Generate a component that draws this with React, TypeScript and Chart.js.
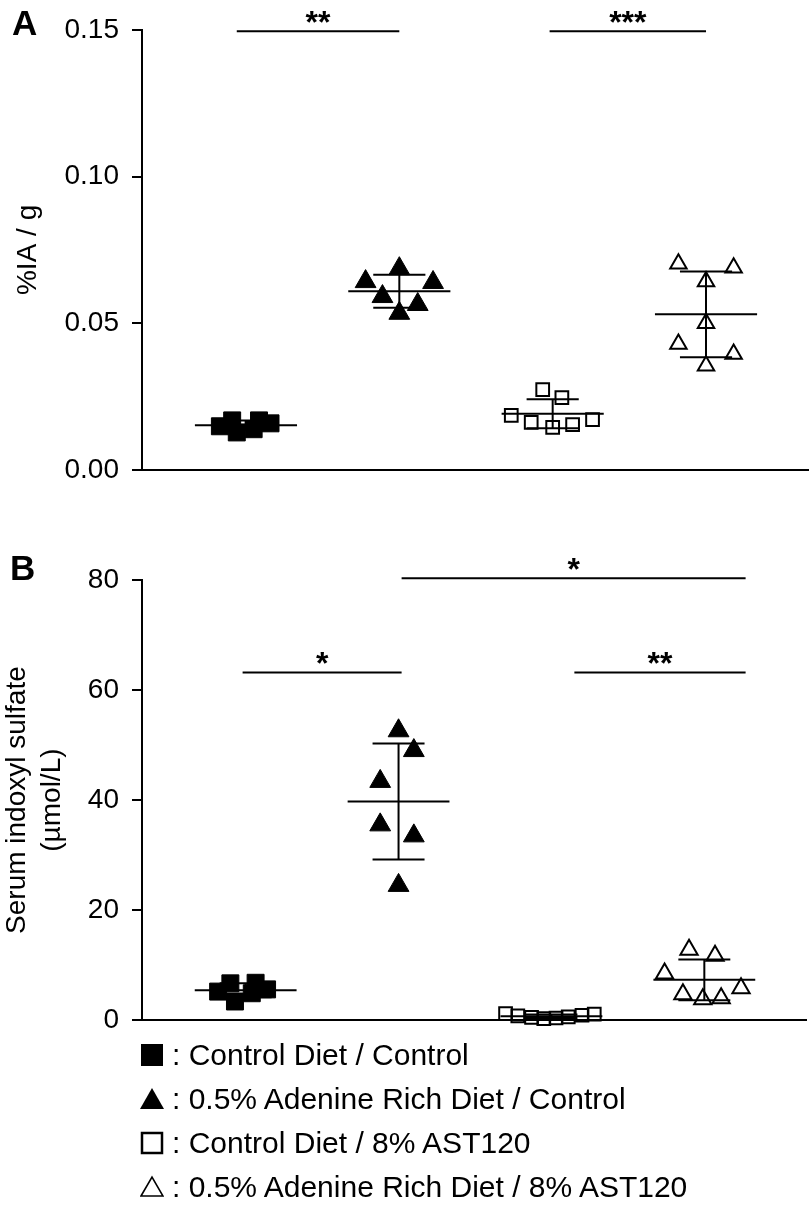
import React, { useEffect, useRef } from "react";
import { Chart, registerables } from "chart.js";
Chart.register(...registerables);

const FONT = '"Liberation Sans", Arial, Helvetica, sans-serif';

const groupNames = [
  "Control Diet / Control",
  "0.5% Adenine Rich Diet / Control",
  "Control Diet / 8% AST120",
  "0.5% Adenine Rich Diet / 8% AST120",
];
const groupX = [0, 1, 2, 3];

// Panel A: %IA / g
const aCtrlCtrl = [0.0149, 0.0169, 0.0128, 0.0139, 0.0169, 0.0159];
const aAdeCtrl = [0.0686, 0.0642, 0.0639, 0.0591, 0.0564, 0.0534];
const aCtrlAst = [0.0274, 0.0247, 0.0186, 0.0162, 0.0145, 0.0155, 0.0172];
const aAdeAst = [0.0703, 0.0689, 0.0642, 0.05, 0.0429, 0.0395, 0.0355];
const aJitter1 = [-0.17, -0.09, -0.06, 0.05, 0.085, 0.16];
const aJitter2 = [0, -0.22, 0.22, -0.11, 0.12, 0];
const aJitter3 = [-0.065, 0.06, -0.27, -0.14, 0, 0.13, 0.26];
const aJitter4 = [-0.18, 0.18, 0, 0, -0.18, 0.18, 0];
const aTicks = [0, 0.05, 0.1, 0.15];
const aBrackets = [
  { from: -0.06, to: 1.0, y: 0.1495, label: "**" },
  { from: 1.98, to: 3.0, y: 0.1495, label: "***" },
];

// Panel B: Serum indoxyl sulfate (µmol/L)
const bCtrlCtrl = [5.2, 6.7, 3.4, 6.8, 4.9, 5.6];
const bAdeCtrl = [52.6, 49.0, 43.4, 35.5, 33.5, 24.5];
const bCtrlAst = [1.2, 0.8, 0.5, 0.3, 0.4, 0.6, 0.9, 1.1];
const bAdeAst = [12.8, 11.7, 8.5, 5.8, 4.7, 3.8, 4.0];
const bJitter1 = [-0.18, -0.1, -0.07, 0.065, 0.04, 0.14];
const bJitter2 = [0, 0.1, -0.12, -0.12, 0.1, 0];
const bJitter3 = [-0.3, -0.22, -0.13, -0.05, 0.03, 0.11, 0.2, 0.28];
const bJitter4 = [-0.1, 0.07, -0.26, 0.24, -0.14, -0.01, 0.11];
const bTicks = [0, 20, 40, 60, 80];
const bBrackets = [
  { from: -0.02, to: 1.02, y: 63.2, label: "*" },
  { from: 1.02, to: 3.27, y: 80.3, label: "*" },
  { from: 2.15, to: 3.27, y: 63.2, label: "**" },
];

const markerStyles = ["rect", "triangle", "rect", "triangle"];
const markerFilled = [true, true, false, false];

function makeDatasets(values: number[][], jitters: number[][], radii: number[]) {
  return values.map((vals, i) => ({
    label: groupNames[i],
    data: vals.map((v, j) => ({ x: groupX[i] + jitters[i][j], y: v })),
    pointStyle: markerStyles[i],
    pointRadius: radii[i],
    pointBackgroundColor: markerFilled[i] ? "#000" : "rgba(0,0,0,0)",
    pointBorderColor: "#000",
    pointBorderWidth: markerFilled[i] ? 1 : 2,
    showLine: false,
    clip: false,
  }));
}

const statsPlugin = {
  id: "stats",
  afterDatasetsDraw(chart: any, _args: any, opts: any) {
    const { ctx } = chart;
    const xs = chart.scales.x;
    const ys = chart.scales.y;
    ctx.save();
    ctx.strokeStyle = "#000";
    ctx.lineWidth = 2;
    const seg = (x1: number, y1: number, x2: number, y2: number) => {
      ctx.beginPath();
      ctx.moveTo(x1, y1);
      ctx.lineTo(x2, y2);
      ctx.stroke();
    };
    chart.data.datasets.forEach((ds: any, i: number) => {
      const vals = ds.data.map((d: any) => d.y);
      const n = vals.length;
      const mean = vals.reduce((a: number, b: number) => a + b, 0) / n;
      const sd = Math.sqrt(
        vals.reduce((a: number, b: number) => a + (b - mean) ** 2, 0) / (n - 1)
      );
      const cx = groupX[i];
      const ym = ys.getPixelForValue(mean);
      const yt = ys.getPixelForValue(mean + sd);
      const yb = ys.getPixelForValue(mean - sd);
      const xc = xs.getPixelForValue(cx);
      seg(xs.getPixelForValue(cx - 0.333), ym, xs.getPixelForValue(cx + 0.333), ym);
      seg(xc, yt, xc, yb);
      seg(xs.getPixelForValue(cx - 0.17), yt, xs.getPixelForValue(cx + 0.17), yt);
      seg(xs.getPixelForValue(cx - 0.17), yb, xs.getPixelForValue(cx + 0.17), yb);
    });
    // significance brackets
    (opts.brackets || []).forEach((b: any) => {
      const yy = ys.getPixelForValue(b.y);
      const x1 = xs.getPixelForValue(b.from);
      const x2 = xs.getPixelForValue(b.to);
      seg(x1, yy, x2, yy);
      ctx.fillStyle = "#000";
      ctx.font = `bold 32px ${FONT}`;
      ctx.textAlign = "center";
      ctx.textBaseline = "alphabetic";
      ctx.fillText(b.label, (x1 + x2) / 2, yy + 2);
    });
    // panel letter
    if (opts.letter) {
      ctx.fillStyle = "#000";
      ctx.font = `bold 35px ${FONT}`;
      ctx.textAlign = "left";
      ctx.textBaseline = "alphabetic";
      ctx.fillText(opts.letter, opts.letterX, opts.letterY);
    }
    ctx.restore();
  },
};

function makeConfig(
  datasets: any[],
  ticks: number[],
  yMax: number,
  decimals: number,
  title: string | string[],
  titlePad: number,
  padding: any,
  stats: any
) {
  return {
    type: "scatter" as const,
    data: { datasets },
    options: {
      animation: false,
      responsive: false,
      maintainAspectRatio: false,
      events: [],
      layout: { padding, autoPadding: false },
      plugins: {
        legend: { display: false },
        tooltip: { enabled: false },
        stats,
      },
      scales: {
        x: {
          type: "linear",
          min: -0.678,
          max: 3.665,
          ticks: { display: false },
          grid: { display: false },
          border: { display: true, color: "#000", width: 2 },
          afterFit: (s: any) => {
            s.height = 0;
          },
        },
        y: {
          type: "linear",
          min: 0,
          max: yMax,
          afterBuildTicks: (s: any) => {
            s.ticks = ticks.map((v) => ({ value: v }));
          },
          ticks: {
            callback: (v: any) => Number(v).toFixed(decimals),
            font: { family: FONT, size: 28 },
            color: "#000",
            padding: 13,
          },
          grid: {
            drawOnChartArea: false,
            drawTicks: true,
            tickLength: 10,
            color: "#000",
            lineWidth: 2,
          },
          border: { display: true, color: "#000", width: 2 },
          title: {
            display: true,
            text: title,
            color: "#000",
            font: { family: FONT, size: 28, lineHeight: 1.25 },
            padding: { top: titlePad, bottom: 0 },
          },
          afterFit: (s: any) => {
            s.width = 142;
          },
        },
      },
    },
    plugins: [statsPlugin],
  };
}

function ChartCanvas({ config, width, height, top }: any) {
  const ref = useRef<HTMLCanvasElement>(null);
  useEffect(() => {
    if (!ref.current) return;
    const chart = new Chart(ref.current, config);
    return () => chart.destroy();
  }, []);
  return (
    <canvas
      ref={ref}
      width={width}
      height={height}
      style={{ position: "absolute", left: 0, top, width, height }}
    />
  );
}

function Symbol({ kind }: { kind: number }) {
  return (
    <svg width={24} height={24} style={{ display: "block" }}>
      {kind === 0 && <rect x={1} y={1} width={22} height={22} fill="#000" />}
      {kind === 1 && <polygon points="0,22 12,1 24,22" fill="#000" />}
      {kind === 2 && (
        <rect x={2} y={2} width={20} height={20} fill="none" stroke="#000" strokeWidth={2.5} />
      )}
      {kind === 3 && (
        <polygon points="1,21 12,2 23,21" fill="none" stroke="#000" strokeWidth={1.6} />
      )}
    </svg>
  );
}

export default function App() {
  const configA = makeConfig(
    makeDatasets([aCtrlCtrl, aAdeCtrl, aCtrlAst, aAdeAst], [aJitter1, aJitter2, aJitter3, aJitter4], [12, 12, 9, 9.5]),
    aTicks,
    0.15,
    2,
    "%IA / g",
    11,
    { top: 27, right: 2, bottom: 30, left: 0 },
    { brackets: aBrackets, letter: "A", letterX: 12, letterY: 35 }
  );
  const configB = makeConfig(
    makeDatasets([bCtrlCtrl, bAdeCtrl, bCtrlAst, bAdeAst], [bJitter1, bJitter2, bJitter3, bJitter4], [12, 12, 9, 10]),
    bTicks,
    80,
    0,
    ["Serum indoxyl sulfate", "(\u00b5mol/L)"],
    0,
    { top: 40, right: 4, bottom: 26, left: 0 },
    { brackets: bBrackets, letter: "B", letterX: 10, letterY: 40 }
  );
  return (
    <div
      style={{
        position: "absolute",
        left: 0,
        top: 0,
        width: 810,
        height: 1231,
        background: "#fff",
        overflow: "hidden",
      }}
    >
      <ChartCanvas config={configA} width={810} height={500} top={0} />
      <ChartCanvas config={configB} width={810} height={510} top={540} />
      <div
        style={{
          position: "absolute",
          left: 140,
          top: 1033,
          fontFamily: FONT,
          fontSize: 30,
          color: "#000",
        }}
      >
        {groupNames.map((name, i) => (
          <div
            key={name}
            style={{ display: "flex", alignItems: "center", height: 44, whiteSpace: "nowrap" }}
          >
            <Symbol kind={i} />
            <span style={{ marginLeft: 8 }}>{": " + name}</span>
          </div>
        ))}
      </div>
    </div>
  );
}
